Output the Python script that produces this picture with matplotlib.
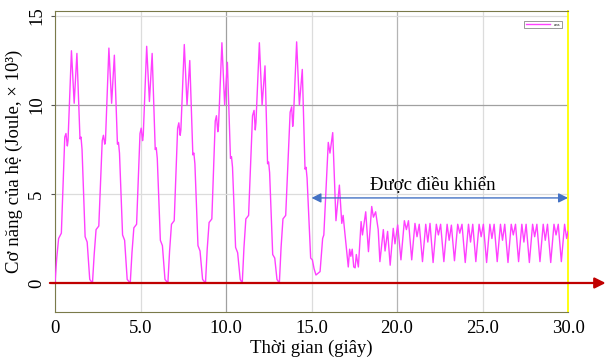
import matplotlib
matplotlib.use('Agg')
import matplotlib.pyplot as plt

# Mechanical energy of the system (x 10^3 J)
# seven large swings (uncontrolled), then the controlled part after t = 15 s
t_swing = [
    0.00, 0.10, 0.21, 0.37, 0.57, 0.64, 0.72, 0.76, 0.96, 1.12, 1.28, 1.46, 1.52, 1.58, 1.76, 1.88, 2.03,
    2.19, 2.29, 2.40, 2.56, 2.76, 2.83, 2.91, 2.95, 3.15, 3.31, 3.47, 3.65, 3.71, 3.77, 3.95, 4.07, 4.22,
    4.40, 4.50, 4.61, 4.77, 4.97, 5.04, 5.12, 5.16, 5.36, 5.52, 5.68, 5.86, 5.92, 5.98, 6.16, 6.28, 6.43,
    6.60, 6.70, 6.81, 6.97, 7.17, 7.24, 7.32, 7.36, 7.56, 7.72, 7.88, 8.06, 8.12, 8.18, 8.36, 8.48, 8.63,
    8.80, 8.90, 9.01, 9.17, 9.37, 9.44, 9.52, 9.56, 9.76, 9.92, 10.08, 10.26, 10.32, 10.38, 10.56, 10.68, 10.83,
    10.95, 11.05, 11.16, 11.32, 11.55, 11.64, 11.71, 11.75, 11.95, 12.11, 12.28, 12.43, 12.49, 12.55, 12.73, 12.85, 12.98,
    13.12, 13.22, 13.33, 13.49, 13.75, 13.84, 13.90, 13.94, 14.13, 14.29, 14.46, 14.62, 14.68, 14.74, 14.95, 15.05, 15.15,
]
e_swing = [
    0.0, 1.4, 2.5, 2.8, 8.2, 8.4, 7.7, 8.0, 13.05, 10.1, 12.9, 8.1, 8.2, 7.5, 2.6, 2.3, 0.2,
    0.0, 1.6, 3.0, 3.2, 8.0, 8.3, 7.8, 8.0, 13.2, 10.1, 12.8, 7.8, 7.9, 7.3, 2.7, 2.4, 0.2,
    0.0, 1.7, 3.1, 3.3, 8.4, 8.7, 8.0, 8.3, 13.3, 10.2, 12.9, 7.5, 7.6, 7.0, 2.4, 2.1, 0.2,
    0.0, 1.8, 3.3, 3.5, 8.7, 9.0, 8.3, 8.6, 13.4, 10.0, 12.5, 7.2, 7.3, 6.7, 2.1, 1.8, 0.2,
    0.0, 1.9, 3.4, 3.6, 9.1, 9.4, 8.5, 8.8, 13.5, 10.0, 12.4, 7.0, 7.1, 6.5, 2.0, 1.7, 0.2,
    0.0, 2.0, 3.6, 3.8, 9.4, 9.7, 8.6, 9.0, 13.5, 10.0, 12.2, 6.7, 6.8, 6.2, 1.6, 1.4, 0.2,
    0.0, 2.0, 3.6, 3.8, 9.6, 9.9, 8.8, 9.2, 13.55, 10.0, 12.0, 6.4, 6.5, 5.9, 1.4, 1.3, 0.8,
]
t_ctrl = [
    15.26, 15.50, 15.65, 15.72, 15.98, 16.08, 16.24, 16.43, 16.63, 16.77, 16.85, 16.92,
    17.15, 17.23, 17.30, 17.38, 17.47, 17.55, 17.62, 17.74, 17.90, 17.98, 18.17, 18.33,
    18.52, 18.62, 18.75, 18.90, 19.00, 19.20, 19.30, 19.45, 19.60, 19.78, 19.88, 20.04,
    20.23, 20.43, 20.55, 20.67,
    20.86, 21.05, 21.17, 21.30, 21.49, 21.68, 21.80, 21.93, 22.11, 22.30, 22.42, 22.55,
    22.74, 22.93, 23.05, 23.18, 23.36, 23.55, 23.67, 23.80, 23.99, 24.18, 24.30, 24.43,
    24.61, 24.80, 24.92, 25.05, 25.24, 25.43, 25.55, 25.68, 25.86, 26.05, 26.17, 26.30,
    26.49, 26.68, 26.80, 26.93, 27.11, 27.30, 27.42, 27.55, 27.74, 27.93, 28.05, 28.18,
    28.36, 28.55, 28.67, 28.80, 28.99, 29.18, 29.30, 29.43, 29.61, 29.80, 29.92, 30.00,
]
e_ctrl = [
    0.45, 0.64, 2.5, 2.7, 7.9, 7.3, 8.45, 3.5, 5.5, 3.35, 3.8, 3.1,
    0.9, 1.9, 1.5, 1.9, 0.9, 0.85, 1.6, 0.9, 3.45, 2.7, 4.0, 1.76,
    4.3, 3.7, 4.0, 3.0, 1.2, 3.0, 1.8, 2.9, 1.0, 3.07, 2.2, 3.26,
    1.3, 3.5, 3.0, 3.5,
    1.3, 3.35, 2.6, 3.3, 1.2, 3.3, 2.3, 3.35, 1.15, 3.3, 2.7, 3.3,
    1.2, 3.3, 2.4, 3.25, 1.25, 3.3, 2.8, 3.3, 1.15, 3.3, 2.3, 3.3,
    1.2, 3.3, 2.6, 3.3, 1.15, 3.3, 2.5, 3.3, 1.2, 3.3, 2.4, 3.3,
    1.15, 3.3, 2.7, 3.3, 1.2, 3.3, 2.3, 3.3, 1.15, 3.3, 2.6, 3.3,
    1.2, 3.3, 2.4, 3.3, 1.15, 3.3, 2.7, 3.3, 1.2, 3.3, 2.5, 2.9,
]
t = t_swing + t_ctrl
e = e_swing + e_ctrl

x_ticks = [0, 5, 10, 15, 20, 25, 30]
x_labels = ['0', '5.0', '10.0', '15.0', '20.0', '25.0', '30.0']
y_ticks = [0, 5, 10, 15]
ctrl_start, ctrl_end = 15.0, 30.0

plt.rcParams['font.family'] = ['Liberation Serif', 'DejaVu Serif']

fig = plt.figure(figsize=(6.06, 3.63), dpi=100)
ax = fig.add_axes([0.0908, 0.1405, 0.8465, 0.829])

ax.plot(t, e, color='#ff40ff', lw=1.0, label='ans', zorder=3, solid_joinstyle='round')

ax.set_xlim(0, 30)
ax.set_ylim(-1.63, 15.28)
ax.set_xticks(x_ticks)
ax.set_xticklabels(x_labels, fontsize=13.5)
ax.set_yticks(y_ticks)
ax.set_yticklabels([str(v) for v in y_ticks], fontsize=13.5, rotation=90, va='center')
ax.tick_params(axis='x', length=0, pad=6)
ax.tick_params(axis='y', length=3, pad=4, color='#555555')

ax.grid(True, color='#dcdcdc', lw=0.9)
xg = ax.xaxis.get_gridlines()
xg[2].set_color('#a0a0a0')
xg[4].set_color('#b4b4b4')
ax.yaxis.get_gridlines()[2].set_color('#a0a0a0')
ax.set_axisbelow(True)

for s in ['left', 'top', 'bottom']:
    ax.spines[s].set_color('#7a7a4a')
ax.spines['right'].set_color('#ffff00')
ax.spines['right'].set_linewidth(1.3)

ax.set_xlabel('Thời gian (giây)', fontsize=13.5, labelpad=2)
ax.set_ylabel('Cơ năng của hệ (Joule, × 10³)', fontsize=13.5, labelpad=4)

# red time axis arrow through zero
ax.annotate('', xy=(32.2, 0), xytext=(-0.3, 0), xycoords='data',
            arrowprops=dict(arrowstyle='-|>', color='#c00000', lw=1.6, mutation_scale=16,
                            shrinkA=0, shrinkB=0), annotation_clip=False, zorder=4)

# controlled interval
ax.annotate('', xy=(ctrl_end, 4.78), xytext=(ctrl_start, 4.78),
            arrowprops=dict(arrowstyle='<|-|>', color='#4472c4', lw=1.0, mutation_scale=14,
                            shrinkA=0, shrinkB=0), zorder=5)
ax.text(22.1, 5.5, 'Được điều khiển', fontsize=13.5, ha='center', va='center', zorder=5)

leg = ax.legend(loc='upper right', fontsize=3.5, handlelength=5, borderpad=0.3,
                fancybox=False, framealpha=1, bbox_to_anchor=(0.993, 0.975))
leg.get_frame().set_edgecolor('#888888')
leg.get_frame().set_linewidth(0.6)

fig.savefig('out.png', dpi=100)
